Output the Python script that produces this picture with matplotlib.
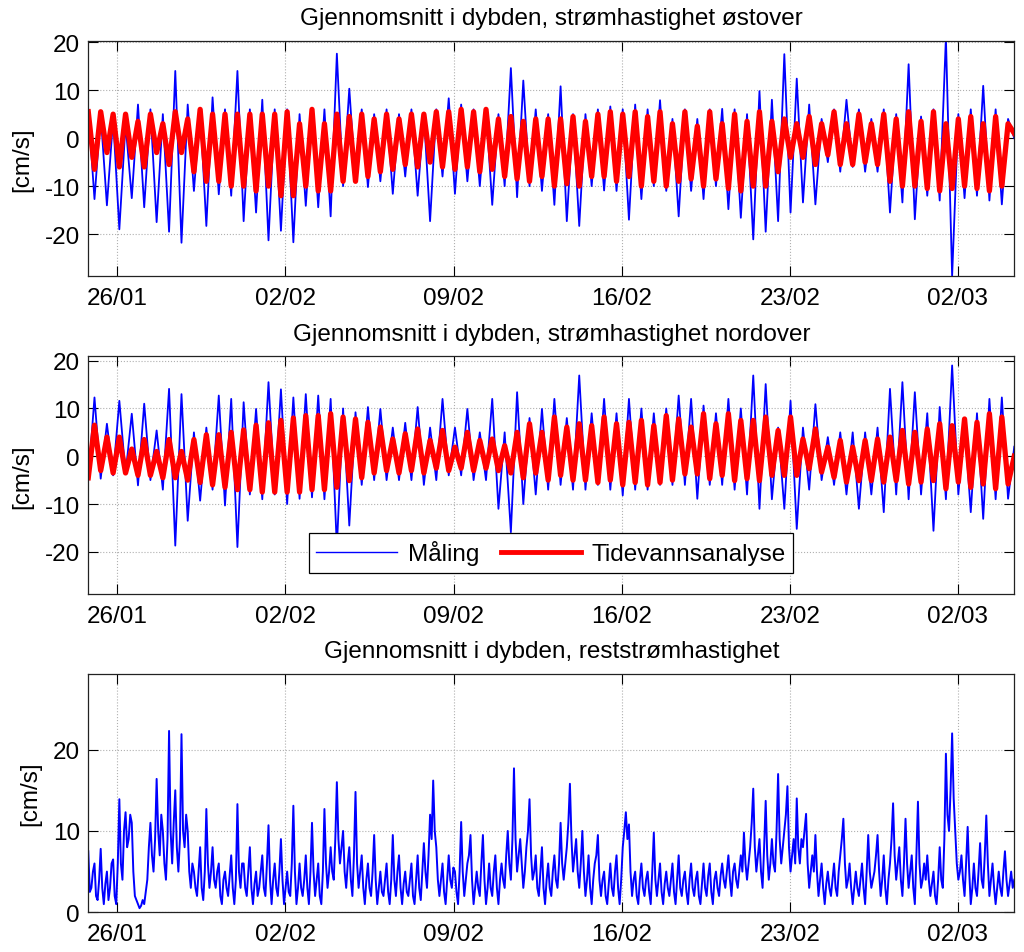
import matplotlib
matplotlib.use('Agg')
import matplotlib.pyplot as plt
import matplotlib.dates as mdates
import pandas as pd

plt.rcParams['font.family'] = ['Liberation Sans', 'DejaVu Sans']
plt.rcParams['font.size'] = 17.5
plt.rcParams['axes.unicode_minus'] = False

# Series start and sampling (half of the M2 tidal period, and finer for the residual)
start = pd.Timestamp('2015-01-24 19:00')

# East component: tidal analysis, alternating high/low per half tide
tide_east = [5.5, -6.5, 5.5, -3, 5, -6, 5, -4, 3.5, -6, 5, -3, 3, -5.5, 5.5, -3, 4, -7, 6, -9,
             5, -9, 5, -10, 5, -10, 5, -11, 5, -10, 5, -12, 5.5, -12, 3, -10, 6, -11, 3, -11,
             5, -9, 4.5, -9, 5, -8, 4, -7, 5, -6.5, 4, -5.5, 5, -6, 5, -5, 5.5, -6, 5.5, -6.5,
             6, -6, 5.5, -7, 6, -6.5, 4, -8, 4.5, -8.5, 3.5, -9, 4, -8, 4, -10, 4, -9.5, 4.5, -10,
             3.5, -8, 5, -8, 5.5, -9, 5, -8, 5.5, -10, 4.5, -9, 5.5, -10, 3, -9, 5.5, -8.5, 2.5, -10,
             5.5, -8.5, 3, -10.5, 5, -11, 3.5, -10, 5.5, -10, 3.5, -7, 4, -4, 3, -4, 4.5, -5.5, 3, -3.5,
             5.5, -5.5, 3, -5.5, 5, -5, 3, -5.5, 5, -9, 4, -10, 5.5, -10, 3.5, -10.5, 5.5, -11, 3, -10.5,
             4, -10, 4.5, -10.5, 3, -11, 4.5, -10, 3, 1]

# East component: measured, local max/min per half tide
meas_east = [6, -12.7, 5, -14, 4, -19, 3, -12.5, 7, -14.4, 6, -17.5, 5, -19.5, 14, -21.8, 7, -11, 6, -18.3,
             8.5, -11.7, 6, -12, 14, -17.3, 6, -15.5, 8, -21.3, 6, -19.3, 6, -21.7, 5, -14.1, 6, -14.4, 6, -16.3,
             17.6, -10, 10.3, -9, 6, -10.2, 5, -9, 6, -11.6, 5, -8, 6, -12, 5, -17.3, 6, -8, 8.3, -11.6,
             7, -9, 6, -10, 6, -13.9, 5, -10, 14.6, -12.3, 12, -10, 6, -11, 5, -13.9, 10.8, -17.3, 5, -18.3,
             5, -10, 6, -10.9, 6.6, -11, 6, -17, 7, -12.7, 6, -10, 7.9, -11, 4, -16.3, 6, -11, 4, -12.7,
             6, -10, 6.1, -14.8, 6, -16.6, 5, -21.1, 9.8, -19.5, 8, -17.3, 17.5, -15.5, 12.4, -13.4, 7, -13.8, 4, -5,
             6, -7, 8, -6, 6, -7, 4, -7, 6, -15.5, 5, -13.4, 15.4, -16.9, 4.5, -12, 6, -13, 21, -28.8,
             5, -12.5, 6, -12, 10.9, -13, 6, -13.8, 4, 0]

# North component: tidal analysis, alternating low/high per half tide
tide_north = [-4.5, 6.5, -3, 4, -3.5, 4, -3.5, 1.5, -4, 3.5, -4, 1, -4.5, 3.5, -4.5, 1, -5, 3.5, -5.5, 4.5,
              -6, 4.5, -6.5, 5, -7, 5.5, -7, 6.5, -7.5, 7, -7.5, 7.5, -7.5, 8, -7.5, 8.5, -7, 8.5, -7, 8.9,
              -6.5, 8.2, -5.1, 7.8, -4.5, 7.1, -3.5, 6.1, -3, 3.6, -3.5, 4.7, -3, 5.7, -3.5, 3.3, -2.5, 5.4, -3, 1.9,
              -2.5, 5, -3, 3.3, -2.5, 3.6, -3, 2.2, -3.5, 5, -4.5, 6.8, -3.5, 5, -5, 8.2, -4, 6.1, -5, 6.8,
              -5, 6.4, -5.5, 8.2, -5, 6.8, -6, 7.1, -5.5, 7.5, -6, 6.4, -5.5, 8.5, -5, 7.8, -3.7, 6.1, -3.7, 8.9,
              -4.7, 6.8, -4, 8.9, -5.1, 7.5, -4.7, 7.5, -5.1, 8.2, -4, 5.4, -4, 8.2, -4, 3.6, -2.6, 5.7, -3.3, 1.9,
              -4.4, 3.3, -5.4, 1.9, -5.1, 3.3, -5.1, 3.6, -5.4, 4, -5.1, 5.4, -5.8, 5, -5.4, 5.7, -5.1, 6.8, -6.8, 6.4,
              -5.4, 7.8, -6.5, 7.1, -5.8, 8.9, -6.8, 8.2, -5.8, 0]

# North component: measured, local min/max per half tide
meas_north = [-5, 12.3, -4.7, 6.8, -4, 11.6, -3.7, 8.9, -6.1, 11, -5, 5.4, -7, 14.1, -18.7, 13, -13.5, 5, -9.3, 6,
              -7, 12.7, -10.3, 12, -19, 11.3, -8, 9.9, -9, 15.5, -8, 14, -10, 12.3, -8.9, 13, -8.6, 12.7, -9, 12,
              -19, 10, -14.5, 9.2, -6, 10.3, -5, 9.9, -5, 6, -5, 7, -5, 10.3, -6, 6, -5, 12, -4, 6,
              -4, 9.9, -5, 5, -5, 12, -11, 5, -15.9, 13.4, -10, 8, -8, 9.9, -7, 12, -6, 8, -7, 16.9,
              -7, 9, -6, 12, -7, 9, -8.2, 12, -7, 10, -7, 9, -6, 10, -6, 12.7, -6, 12, -8.9, 10.6,
              -6, 9, -6, 12, -7, 10, -8, 16.9, -11, 15.1, -9, 6, -11, 11.6, -15.2, 6, -7, 10.9, -5, 4,
              -6, 5, -8, 5, -11, 5, -8, 6, -11.7, 14.1, -8, 15.5, -9, 13.4, -8, 9, -15.6, 10.3, -9, 19,
              -8, 7, -11.7, 9, -13.1, 12, -9, 12.3, -8.9, 2]

# Residual current speed, read at about 1.5 h spacing
residual = [7.5, 2.5, 3, 5, 6, 2, 1.5, 4, 7.8, 3, 1, 3.5, 5, 1.5, 3, 6, 6.5, 2, 1, 6,
            13.9, 6, 4, 10, 12.3, 8, 9, 12, 11, 5, 2, 1.5, 1, 0.5, 0.8, 1.5, 1, 2.5, 4, 8,
            11, 7, 5, 9, 16.4, 10, 7, 12, 10, 6, 4, 9, 22.3, 10, 6, 11, 15, 8, 5, 9,
            21.9, 10, 8, 12, 10, 5, 3, 6, 5, 3, 2, 5, 8, 3, 1.5, 5, 12.7, 6, 3, 5,
            8, 4, 3, 5, 6, 2, 1, 4, 5, 3, 2, 4.5, 7, 3, 1, 4, 13.3, 5, 3, 6,
            6, 3, 2, 5, 8, 3, 1, 3.5, 5, 2, 3, 5, 7, 3, 2, 6, 10.7, 4, 1, 4,
            6, 3, 2, 5, 9, 4, 1, 3, 5, 2.5, 2, 6, 13.1, 5, 1, 3, 6, 3, 2, 4,
            7, 3, 1, 5, 11, 5, 2, 4, 6, 2, 1, 5, 12.7, 6, 3, 5, 8, 5, 4, 9,
            16, 9, 6, 8, 10, 5, 3, 6, 8, 4, 2, 7, 14.8, 6, 3, 5, 7, 3, 1, 4,
            6, 3, 2, 5, 9.5, 4, 1, 3, 5, 2.5, 2, 4, 6, 2.5, 1, 4, 9.5, 4, 2, 5,
            7, 3, 1, 3.5, 5, 2.5, 2, 4, 6, 2, 1, 4, 7, 3, 1.5, 5, 8.5, 5, 3, 7,
            12, 9, 16.2, 10, 8, 4, 2, 4, 6, 2.5, 1, 4, 7, 4, 3, 5.5, 5, 2.5, 1, 5,
            11.1, 5, 2, 4, 6, 7, 9.5, 4, 1, 3, 5, 3, 2, 6, 9.5, 4, 1, 3, 6, 3,
            2, 5, 7, 3, 1, 4, 6, 4, 3, 7, 10, 6, 4, 9, 17.7, 9, 5, 7, 9, 6,
            3, 5, 8, 10, 13.9, 7, 4, 5, 7, 3, 2, 5, 8, 3, 1, 4, 6, 3, 2, 5,
            7, 4, 3, 6, 11, 6, 4, 6, 8, 11, 15.8, 9, 5, 7, 9, 5, 3, 6, 10, 5,
            2, 4, 7, 3, 1, 4, 6, 7, 9.5, 4, 2, 4, 5, 2, 1, 3.5, 6, 3, 2, 5,
            7, 3, 1, 4, 8, 10, 12.3, 9, 10.8, 5, 2, 4, 5, 2, 1, 4, 6, 3, 2, 4,
            5, 2.5, 1, 5, 9.8, 4, 2, 4, 6, 2.5, 1, 3.5, 5, 3, 2, 4, 6, 2.5, 1, 4,
            7, 3, 2, 4, 5, 2.5, 1, 4, 6, 3, 2, 4, 5, 2, 1, 3.5, 6, 3, 2, 4.5,
            6, 2.5, 1, 4, 5, 3, 2, 4.5, 6, 4, 3, 5, 7, 4, 2, 5, 6, 4, 3, 5,
            7, 5, 9.8, 6, 4, 6, 8, 11, 15.2, 8, 5, 7, 9, 5, 3, 8, 13.7, 7, 4, 6,
            9, 6, 5, 10, 17, 9, 6, 8, 10, 12, 15.5, 8, 5, 7, 9, 6, 14, 8, 6, 9,
            8, 10, 12.1, 6, 3, 5, 7, 5, 9.5, 5, 2, 4, 6, 3, 1, 3.5, 5, 3, 2, 4,
            6, 3, 2, 5, 7, 9, 11.5, 6, 3, 4, 6, 3, 1, 3, 5, 3, 2, 4, 6, 3,
            1, 5, 9.5, 5, 3, 4, 5, 7, 9.5, 5, 2, 4, 7, 3, 1, 4, 6, 9, 13.4, 7,
            4, 6, 8, 4, 2, 6, 11.5, 6, 3, 5, 7, 3, 1, 7, 13.6, 6, 3, 4, 6, 4,
            7, 4, 2, 3.5, 5, 2, 1, 4, 8, 4, 3, 9, 19.5, 12, 10, 15, 22, 14, 10, 6,
            4, 5, 7, 4, 2, 6, 10.5, 5, 1, 3, 6, 3, 2, 5, 8.5, 4, 3, 7, 11.9, 6,
            2, 4, 6, 3, 1, 3, 5, 3, 2, 5, 7.5, 4, 2, 3.5, 5, 3, 4]

titles = ['Gjennomsnitt i dybden, strømhastighet østover',
          'Gjennomsnitt i dybden, strømhastighet nordover',
          'Gjennomsnitt i dybden, reststrømhastighet']
tick_days = ['2015-01-26', '2015-02-02', '2015-02-09', '2015-02-16', '2015-02-23', '2015-03-02']

t_half = pd.date_range(start, periods=len(tide_east), freq='22356s')
t_res = pd.date_range(start, periods=len(residual), freq='5589s')

fig = plt.figure(figsize=(10.24, 9.53), dpi=100)
ax1 = fig.add_axes([0.0862, 0.7090, 0.9043, 0.2472])
ax2 = fig.add_axes([0.0862, 0.3753, 0.9043, 0.2497])
ax3 = fig.add_axes([0.0862, 0.0417, 0.9043, 0.2500])

ax1.plot(t_half, meas_east, color='#0000ff', lw=1.3, label='Måling')
ax1.plot(t_half, tide_east, color='#ff0000', lw=3.8, label='Tidevannsanalyse')
ax2.plot(t_half, meas_north, color='#0000ff', lw=1.3, label='Måling')
ax2.plot(t_half, tide_north, color='#ff0000', lw=3.8, label='Tidevannsanalyse')
ax3.plot(t_res, residual, color='#0000ff', lw=1.4)

ax1.set_ylim(-28.8, 20.3)
ax2.set_ylim(-28.9, 20.9)
ax3.set_ylim(0, 29.3)
ax1.set_yticks([-20, -10, 0, 10, 20])
ax2.set_yticks([-20, -10, 0, 10, 20])
ax3.set_yticks([0, 10, 20])

for ax, title in zip([ax1, ax2, ax3], titles):
    ax.set_xlim(t_half[0], t_half[-1])
    ax.set_xticks(pd.to_datetime(tick_days))
    ax.xaxis.set_major_formatter(mdates.DateFormatter('%d/%m'))
    ax.set_title(title, fontsize=17.5, pad=12)
    ax.set_ylabel('[cm/s]', labelpad=8)
    ax.grid(True, color='#b0b0b0', linestyle=':', linewidth=0.8)
    ax.tick_params(direction='in', length=7, width=0.8, top=True, right=True)
    ax.tick_params(axis='x', pad=8)
    ax.tick_params(axis='y', pad=6)
    for s in ax.spines.values():
        s.set_linewidth(0.9)
        s.set_color('#222222')

leg = ax2.legend(loc='lower center', bbox_to_anchor=(0.5, 0.04), ncol=2, fontsize=17.5,
                 fancybox=False, edgecolor='black', framealpha=1, handlelength=3.3,
                 handletextpad=0.45, columnspacing=0.9, borderpad=0.3)
leg.get_frame().set_linewidth(0.9)
leg.get_lines()[0].set_linewidth(1.0)
leg.get_lines()[1].set_linewidth(3.5)

fig.savefig('out.png', dpi=100)
